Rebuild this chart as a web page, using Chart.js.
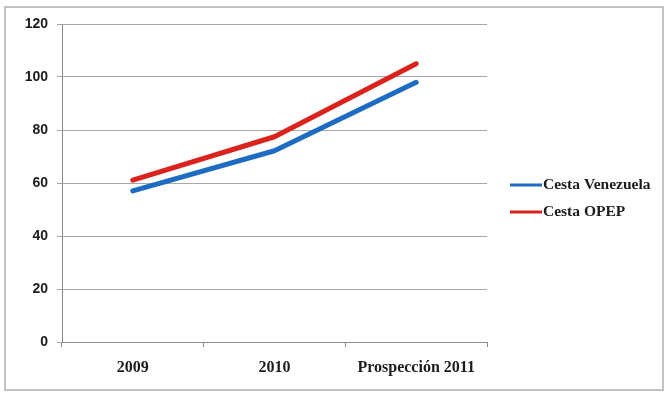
<!DOCTYPE html>
<html>
<head>
<meta charset="utf-8">
<script src="https://cdn.jsdelivr.net/npm/chart.js@4/dist/chart.umd.min.js"></script>
<style>
  html, body { margin: 0; padding: 0; background: #fff; }
  #wrap { width: 667px; height: 394px; position: relative; }
</style>
</head>
<body>
<div id="wrap"><canvas id="chart" width="667" height="394"></canvas></div>
<script>
// Oil basket prices (USD per barrel)
const years = ['2009', '2010', 'Prospección 2011'];
const cestaVenezuela = [57.01, 72.18, 98];
const cestaOpep = [61.06, 77.45, 105];
const yTicks = [0, 20, 40, 60, 80, 100, 120];

const blue = '#1d6cc1';
const red = '#d9231c';
const textColor = '#1c1c1c';
const gridColor = '#a8a8a8';
const axisColor = '#8a8a8a';
const serif = '"Liberation Serif", "DejaVu Serif", serif';
const sans = '"Liberation Sans", Arial, sans-serif';

// Outer frame around the whole chart
const framePlugin = {
    id: 'frame',
    beforeDraw(chart) {
        const ctx = chart.ctx;
        ctx.save();
        ctx.fillStyle = '#fff';
        ctx.fillRect(0, 0, chart.width, chart.height);
        ctx.strokeStyle = '#c2c2c2';
        ctx.lineWidth = 2;
        ctx.strokeRect(5, 7, 658, 383);
        ctx.restore();
    }
};

// Legend on the right, drawn from the dataset labels and colours
const sideLegend = {
    id: 'sideLegend',
    afterDraw(chart) {
        const ctx = chart.ctx;
        ctx.save();
        ctx.font = 'bold 15.5px ' + serif;
        ctx.textBaseline = 'middle';
        chart.data.datasets.forEach((ds, i) => {
            const y = 185 + i * 27;
            ctx.strokeStyle = ds.borderColor;
            ctx.lineWidth = 3;
            ctx.beginPath();
            ctx.moveTo(510, y);
            ctx.lineTo(542, y);
            ctx.stroke();
            ctx.fillStyle = textColor;
            ctx.fillText(ds.label, 543, y);
        });
        ctx.restore();
    }
};

new Chart(document.getElementById('chart'), {
    type: 'line',
    data: {
        labels: years,
        datasets: [
            {
                label: 'Cesta Venezuela',
                data: cestaVenezuela,
                borderColor: blue,
                backgroundColor: blue,
                borderWidth: 5,
                borderCapStyle: 'round',
                borderJoinStyle: 'round',
                pointRadius: 0,
                tension: 0
            },
            {
                label: 'Cesta OPEP',
                data: cestaOpep,
                borderColor: red,
                backgroundColor: red,
                borderWidth: 5,
                borderCapStyle: 'round',
                borderJoinStyle: 'round',
                pointRadius: 0,
                tension: 0
            }
        ]
    },
    options: {
        responsive: false,
        animation: false,
        layout: { padding: { left: 0, top: 24, right: 180, bottom: 0 } },
        plugins: {
            legend: { display: false },
            tooltip: { enabled: false }
        },
        scales: {
            x: {
                offset: true,
                grid: {
                    offset: true,
                    drawOnChartArea: false,
                    drawTicks: true,
                    tickLength: 5,
                    color: axisColor
                },
                border: { color: axisColor, width: 1 },
                ticks: {
                    color: textColor,
                    font: { family: serif, size: 16, weight: 'bold' },
                    padding: 11,
                    maxRotation: 0
                },
                afterFit(scale) { scale.height = 52; }
            },
            y: {
                min: 0,
                max: 120,
                afterBuildTicks(scale) {
                    scale.ticks = yTicks.map(v => ({ value: v }));
                },
                grid: {
                    color: gridColor,
                    tickLength: 5
                },
                border: { color: axisColor, width: 1 },
                ticks: {
                    color: textColor,
                    font: { family: sans, size: 14, weight: 'bold' },
                    padding: 9
                },
                afterFit(scale) { scale.width = 62; }
            }
        }
    },
    plugins: [framePlugin, sideLegend]
});
</script>
</body>
</html>
